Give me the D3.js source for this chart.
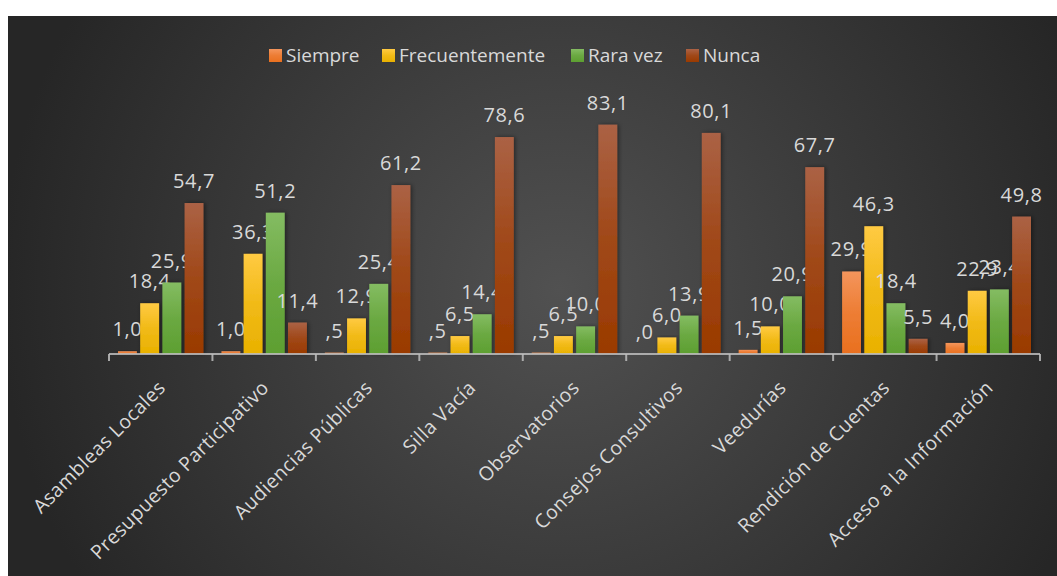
<!DOCTYPE html>
<html>
<head>
<meta charset="utf-8">
<script src="https://cdn.jsdelivr.net/npm/d3@7"></script>
<style>
  html, body { margin: 0; padding: 0; background: #fff; }
  svg { display: block; }
</style>
</head>
<body>
<script>
// chart data
var categories = ["Asambleas Locales", "Presupuesto Participativo", "Audiencias Públicas",
  "Silla Vacía", "Observatorios", "Consejos Consultivos", "Veedurías",
  "Rendición de Cuentas", "Acceso a la Información"];
var seriesNames = ["Siempre", "Frecuentemente", "Rara vez", "Nunca"];
var siempre = [1.0, 1.0, 0.5, 0.5, 0.5, 0.0, 1.5, 29.9, 4.0];
var frecuentemente = [18.4, 36.3, 12.9, 6.5, 6.5, 6.0, 10.0, 46.3, 22.9];
var raraVez = [25.9, 51.2, 25.4, 14.4, 10.0, 13.9, 20.9, 18.4, 23.4];
var nunca = [54.7, 11.4, 61.2, 78.6, 83.1, 80.1, 67.7, 5.5, 49.8];
var seriesValues = [siempre, frecuentemente, raraVez, nunca];

var width = 1057, height = 576;
var margin = {top: 16, left: 8};
var plot = {left: 109, right: 1040, base: 354, top: 105.6};

// gradient stops per series (top, bottom)
var colors = [
  ["#f4955c", "#e9701f"],
  ["#ffca42", "#e9b100"],
  ["#84bc62", "#5d9f31"],
  ["#ab6245", "#9a3a00"]
];

var svg = d3.select("body").append("svg")
    .attr("width", width)
    .attr("height", height);

var defs = svg.append("defs");

var bg = defs.append("radialGradient")
    .attr("id", "bg")
    .attr("gradientUnits", "userSpaceOnUse")
    .attr("cx", 560).attr("cy", 290).attr("r", 560);
bg.append("stop").attr("offset", "0").attr("stop-color", "#515151");
bg.append("stop").attr("offset", "1").attr("stop-color", "#262626");

colors.forEach(function(c, i) {
  var g = defs.append("linearGradient")
      .attr("id", "bar" + i)
      .attr("x1", 0).attr("y1", 0).attr("x2", 0).attr("y2", 1);
  g.append("stop").attr("offset", "0").attr("stop-color", c[0]);
  g.append("stop").attr("offset", "0.5").attr("stop-color", d3.interpolateRgb(c[0], c[1])(0.65));
  g.append("stop").attr("offset", "1").attr("stop-color", c[1]);
});

var shadow = defs.append("filter")
    .attr("id", "shadow")
    .attr("x", "-30%").attr("y", "-10%").attr("width", "160%").attr("height", "120%");
shadow.append("feDropShadow")
    .attr("dx", 1.5).attr("dy", 0)
    .attr("stdDeviation", 2)
    .attr("flood-color", "#000")
    .attr("flood-opacity", 0.45);

// background
svg.append("rect")
    .attr("x", margin.left)
    .attr("y", margin.top)
    .attr("width", width - margin.left)
    .attr("height", height - margin.top)
    .attr("fill", "url(#bg)");

var x0 = d3.scaleBand()
    .domain(categories)
    .range([plot.left, plot.right])
    .paddingInner(0)
    .paddingOuter(0);

var x1 = d3.scaleBand()
    .domain(seriesNames)
    .range([9, x0.bandwidth() - 9])
    .paddingInner(0.15);

var y = d3.scaleLinear()
    .domain([0, 90])
    .range([plot.base, plot.top]);

function fmt(v) {
  return d3.format(".1f")(v).replace(/^0\./, ".").replace(".", ",");
}

var fontFamily = "'Open Sans', 'Noto Sans', sans-serif";
var textColor = "#d9d9d9";

// bars
var groups = svg.append("g").selectAll("g")
    .data(categories)
    .enter().append("g")
    .attr("transform", function(d) { return "translate(" + x0(d) + ",0)"; });

var cells = groups.selectAll("g.cell")
    .data(function(d, ci) {
      return seriesNames.map(function(s, si) {
        return {series: s, si: si, value: seriesValues[si][ci]};
      });
    })
    .enter().append("g").attr("class", "cell");

cells.append("rect")
    .attr("x", function(d) { return x1(d.series); })
    .attr("y", function(d) { return y(d.value); })
    .attr("width", x1.bandwidth())
    .attr("height", function(d) { return plot.base - y(d.value); })
    .attr("fill", function(d) { return "url(#bar" + d.si + ")"; })
    .attr("filter", "url(#shadow)");

// axis line + ticks
var axis = d3.axisBottom(x0).tickSize(0).tickFormat("");
var axisG = svg.append("g")
    .attr("transform", "translate(0," + plot.base + ")")
    .call(axis);
axisG.select(".domain").remove();
axisG.append("line")
    .attr("x1", plot.left).attr("x2", plot.right)
    .attr("y1", 0).attr("y2", 0)
    .attr("stroke", "#bdbdbd").attr("stroke-opacity", 0.85).attr("stroke-width", 2);
axisG.selectAll(".bound")
    .data(d3.range(categories.length + 1))
    .enter().append("line")
    .attr("class", "bound")
    .attr("x1", function(i) { return plot.left + i * x0.step(); })
    .attr("x2", function(i) { return plot.left + i * x0.step(); })
    .attr("y1", 0).attr("y2", 7)
    .attr("stroke", "#bdbdbd").attr("stroke-opacity", 0.85).attr("stroke-width", 2);

// value labels
cells.append("text")
    .attr("x", function(d) { return x1(d.series) + x1.bandwidth() / 2; })
    .attr("y", function(d) { return y(d.value) - 15; })
    .attr("text-anchor", "middle")
    .attr("fill", textColor)
    .style("font-family", fontFamily)
    .style("font-size", "20px")
    .style("letter-spacing", "0.6px")
    .text(function(d) { return fmt(d.value); });

// category labels
svg.append("g").selectAll("text")
    .data(categories)
    .enter().append("text")
    .attr("transform", function(d) {
      return "translate(" + (x0(d) + x0.bandwidth() / 2 + 6) + "," + (plot.base + 35) + ") rotate(-45)";
    })
    .attr("text-anchor", "end")
    .attr("fill", textColor)
    .style("font-family", fontFamily)
    .style("font-size", "19.5px")
    .style("letter-spacing", "0.4px")
    .text(function(d) { return d; });

// legend
var legendX = [269, 382, 571, 686];
var legend = svg.append("g").selectAll("g")
    .data(seriesNames)
    .enter().append("g")
    .attr("transform", function(d, i) { return "translate(" + legendX[i] + ",49)"; });
legend.append("rect")
    .attr("width", 13).attr("height", 13)
    .attr("fill", function(d, i) { return "url(#bar" + i + ")"; });
legend.append("text")
    .attr("x", 17)
    .attr("y", 13)
    .attr("fill", textColor)
    .style("font-family", fontFamily)
    .style("font-size", "19px")
    .text(function(d) { return d; });
</script>
</body>
</html>
